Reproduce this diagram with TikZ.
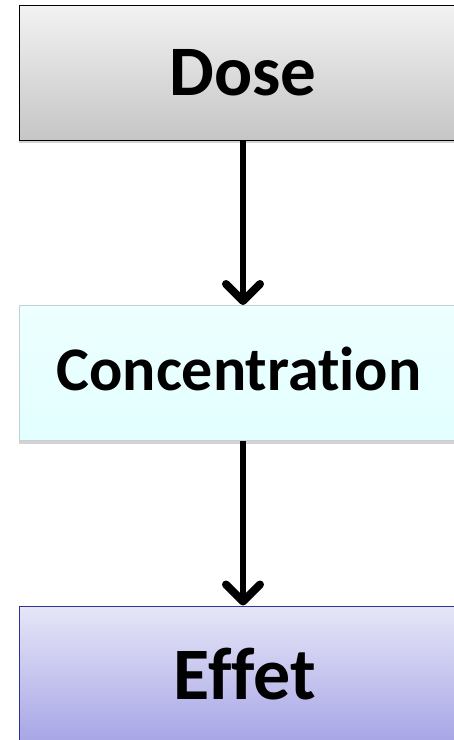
\documentclass[tikz,border=0pt]{standalone}
\usepackage{fontspec}
\setmainfont[Ligatures={NoCommon}]{Carlito}
\usetikzlibrary{arrows.meta,shadows}

\definecolor{effettop}{RGB}{230,230,248}
\definecolor{effetbot}{RGB}{168,166,230}
\definecolor{effetline}{RGB}{50,50,150}

\begin{document}
\begin{tikzpicture}[x=1pt, y=-1pt,
  stagebox/.style={rectangle, minimum width=448pt, minimum height=135pt, inner sep=0pt, line width=1pt,
    drop shadow={shadow xshift=0pt, shadow yshift=-3pt, opacity=0.35}},
  flowarrow/.style={line width=6pt, -{Straight Barb[length=17pt, width=34pt, line width=8pt, line cap=round, line join=round]}}
]
\useasboundingbox (0,0) rectangle (454,740); % page
\clip (0,0) rectangle (454,740); % boxes run past the right and bottom edges

\node[stagebox, draw=black, top color=gray!10, bottom color=gray!45] (dose) at (243,72.5) {}; % Dose box
\node at (243,72.5) {\fontsize{71}{84}\selectfont\bfseries Dose}; % Dose label

\node[stagebox, draw=cyan!20!gray!45, top color=cyan!7, bottom color=cyan!11] (conc) at (243,373) {}; % Concentration box
\node at (239,369) {\fontsize{62}{74}\selectfont\bfseries Concentration}; % Concentration label

\node[stagebox, draw=effetline, top color=effettop, bottom color=effetbot] (effet) at (243,673.5) {}; % Effet box
\node at (245,674) {\fontsize{74}{88}\selectfont\bfseries Effet}; % Effet label

\draw[flowarrow] (dose.south) -- (conc.north); % dose -> concentration
\draw[flowarrow] (conc.south) -- (effet.north); % concentration -> effet
\end{tikzpicture}
\end{document}
